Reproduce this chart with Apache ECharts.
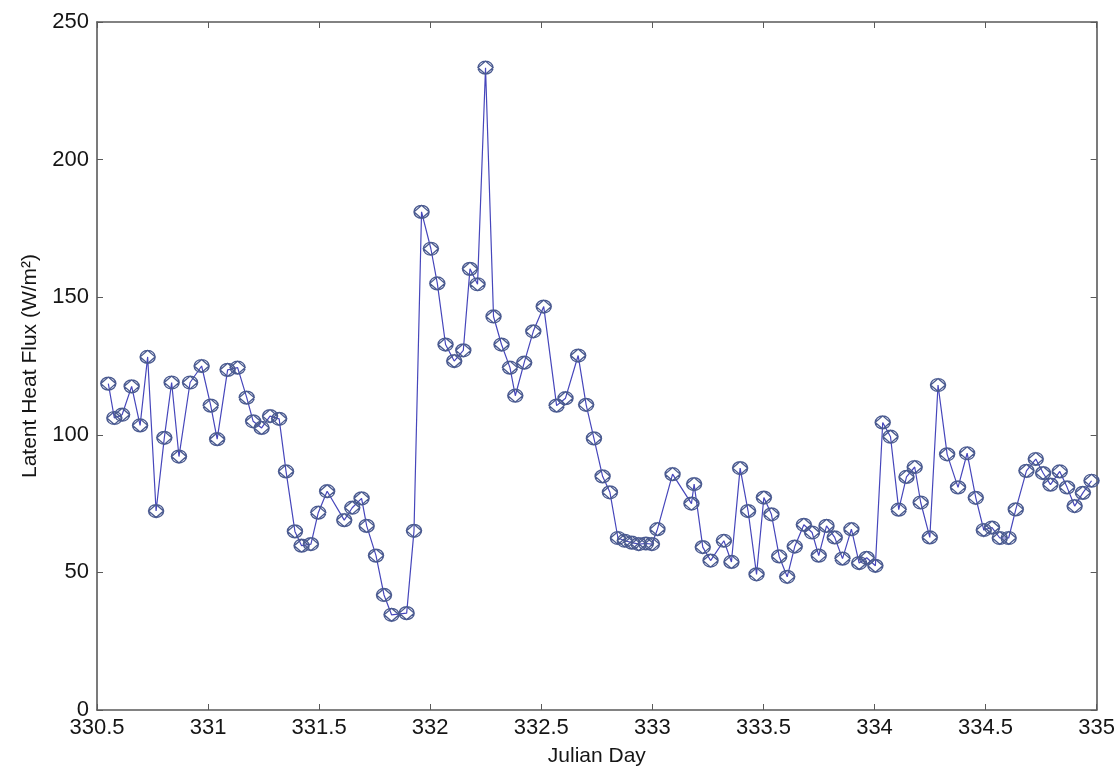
<!DOCTYPE html>
<html>
<head>
<meta charset="utf-8">
<title>Latent Heat Flux</title>
<script src="https://cdn.jsdelivr.net/npm/echarts@6/dist/echarts.min.js"></script>
<style>
  html, body { margin: 0; padding: 0; background: #ffffff; }
  #chart { width: 1118px; height: 772px; }
</style>
</head>
<body>
<div id="chart"></div>
<script>
// Observation times (Julian day)
const julianDay = [
  330.551, 330.578, 330.613, 330.656, 330.694, 330.728, 330.766, 330.803, 330.836, 330.869,
  330.919, 330.971, 331.012, 331.041, 331.088, 331.133, 331.174, 331.203, 331.241, 331.279,
  331.320, 331.351, 331.391, 331.421, 331.463, 331.496, 331.536, 331.613, 331.649, 331.691,
  331.714, 331.756, 331.792, 331.826, 331.894, 331.927, 331.961, 332.003, 332.032, 332.069,
  332.108, 332.149, 332.179, 332.213, 332.249, 332.285, 332.321, 332.359, 332.383, 332.423,
  332.464, 332.511, 332.569, 332.609, 332.666, 332.702, 332.737, 332.776, 332.809, 332.845,
  332.876, 332.908, 332.939, 332.971, 332.998, 333.023, 333.091, 333.176, 333.188, 333.227,
  333.262, 333.322, 333.356, 333.395, 333.431, 333.469, 333.502, 333.536, 333.571, 333.607,
  333.641, 333.682, 333.719, 333.749, 333.784, 333.821, 333.856, 333.896, 333.931, 333.965,
  334.004, 334.037, 334.072, 334.109, 334.144, 334.181, 334.208, 334.249, 334.286, 334.327,
  334.376, 334.417, 334.456, 334.492, 334.529, 334.564, 334.604, 334.636, 334.684, 334.726,
  334.759, 334.792, 334.834, 334.867, 334.901, 334.938, 334.977
];

// Latent heat flux (W/m^2)
const latentHeatFlux = [
  118.6, 106.1, 107.3, 117.6, 103.4, 128.3, 72.3, 98.9, 119.0, 92.1,
  119.0, 125.0, 110.6, 98.4, 123.6, 124.4, 113.5, 104.9, 102.5, 106.8,
  105.8, 86.7, 64.9, 59.7, 60.3, 71.7, 79.5, 69.0, 73.5, 76.9,
  66.9, 56.1, 41.8, 34.6, 35.2, 65.1, 181.0, 167.6, 155.0, 132.8,
  126.8, 130.7, 160.3, 154.7, 233.4, 143.0, 132.8, 124.4, 114.2, 126.2,
  137.6, 146.6, 110.6, 113.3, 128.8, 110.9, 98.7, 84.9, 79.1, 62.5,
  61.5, 60.8, 60.3, 60.5, 60.3, 65.7, 85.7, 75.0, 82.1, 59.2,
  54.3, 61.5, 53.8, 87.9, 72.3, 49.3, 77.2, 71.1, 55.8, 48.4,
  59.4, 67.3, 64.5, 56.1, 66.9, 62.7, 55.0, 65.7, 53.4, 55.3,
  52.4, 104.5, 99.3, 72.8, 84.7, 88.3, 75.4, 62.7, 118.1, 92.9,
  80.9, 93.3, 77.1, 65.4, 66.3, 62.5, 62.5, 72.9, 86.9, 91.2,
  86.1, 81.9, 86.7, 80.9, 74.1, 78.9, 83.3
];

// Axis ranges and tick steps
const xRange = [330.5, 335];
const xStep = 0.5;
const yRange = [0, 250];
const yStep = 50;

const xTitle = 'Julian Day';
const yTitle = 'Latent Heat Flux (W/m²)';

const points = julianDay.map((d, i) => [d, latentHeatFlux[i]]);

// Ellipse with an inscribed diamond, as the marker outline
const markerPath = 'path://M12,1 L23,10 L12,19 L1,10 Z M1,10 A11,9 0 1 1 23,10 A11,9 0 1 1 1,10 Z';

const axisColor = '#5a5a5a';
const textColor = '#151515';
const font = 'Liberation Sans, Arial, sans-serif';

const chart = echarts.init(document.getElementById('chart'), null, { renderer: 'canvas' });

const boxAxis = {
  axisLine: { show: true, onZero: false, lineStyle: { color: axisColor, width: 1.6 } },
  axisTick: { show: true, inside: true, length: 6, lineStyle: { color: axisColor } },
  splitLine: { show: false }
};

chart.setOption({
  backgroundColor: '#ffffff',
  animation: false,
  grid: { left: 97, right: 21, top: 22, bottom: 55, containLabel: false },
  xAxis: [
    Object.assign({
      type: 'value', position: 'bottom',
      min: xRange[0], max: xRange[1], interval: xStep,
      name: xTitle, nameLocation: 'middle', nameGap: 36,
      nameTextStyle: { color: textColor, fontSize: 21, fontFamily: font },
      axisLabel: { color: textColor, fontSize: 22, fontFamily: font, margin: 7 }
    }, boxAxis),
    Object.assign({
      type: 'value', position: 'top',
      min: xRange[0], max: xRange[1], interval: xStep,
      axisLabel: { show: false }
    }, boxAxis)
  ],
  yAxis: [
    Object.assign({
      type: 'value', position: 'left',
      min: yRange[0], max: yRange[1], interval: yStep,
      name: yTitle, nameLocation: 'middle', nameGap: 56, nameRotate: 90,
      nameTextStyle: { color: textColor, fontSize: 21, fontFamily: font },
      axisLabel: { color: textColor, fontSize: 22, fontFamily: font, margin: 8 }
    }, boxAxis),
    Object.assign({
      type: 'value', position: 'right',
      min: yRange[0], max: yRange[1], interval: yStep,
      axisLabel: { show: false }
    }, boxAxis)
  ],
  series: [{
    type: 'line',
    data: points,
    xAxisIndex: 0,
    yAxisIndex: 0,
    symbol: markerPath,
    symbolSize: [15, 13],
    showAllSymbol: true,
    lineStyle: { color: '#4646bb', width: 1.2 },
    itemStyle: { color: 'rgba(255,255,255,0)', borderColor: '#4a5a90', borderWidth: 1.3 },
    emphasis: { disabled: true },
    z: 3
  }]
});
</script>
</body>
</html>
